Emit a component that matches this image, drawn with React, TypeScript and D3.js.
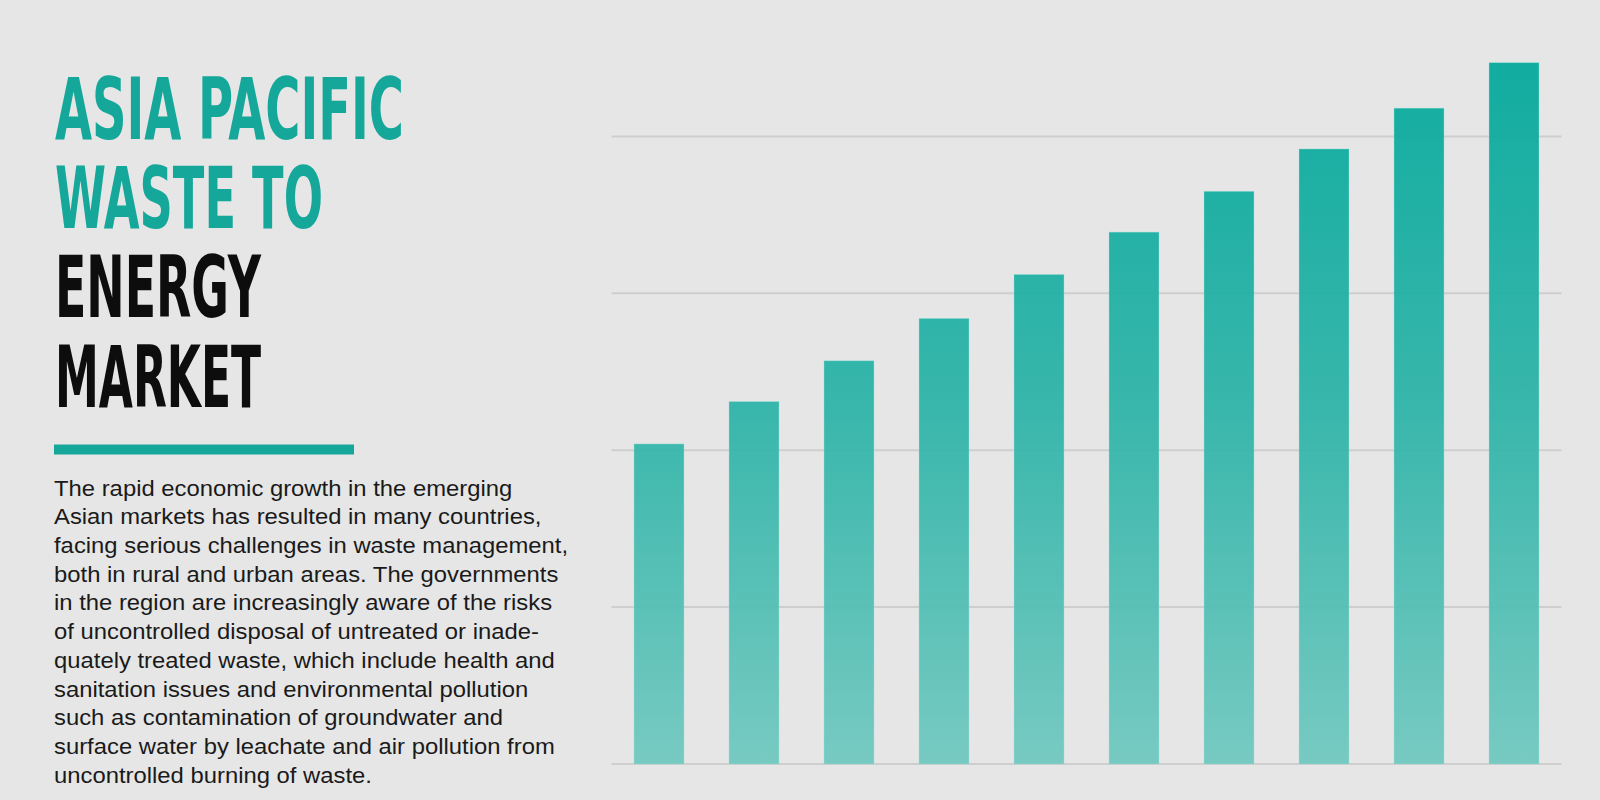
import React from "react";
import * as d3 from "d3";

const categories = ["1", "2", "3", "4", "5", "6", "7", "8", "9", "10"];
const values = [204, 231, 257, 284, 312, 339, 365, 392, 418, 447];
const gridTicks = [0, 100, 200, 300, 400];

const titleTeal = ["ASIA PACIFIC", "WASTE TO"];
const titleBlack = ["ENERGY", "MARKET"];
const titleWidths = [349, 268, 206, 206];

const paragraph = [
  "The rapid economic growth in the emerging",
  "Asian markets has resulted in many countries,",
  "facing serious challenges in waste management,",
  "both in rural and urban areas. The governments",
  "in the region are increasingly aware of the risks",
  "of uncontrolled disposal of untreated or inade-",
  "quately treated waste, which include health and",
  "sanitation issues and environmental pollution",
  "such as contamination of groundwater and",
  "surface water by leachate and air pollution from",
  "uncontrolled burning of waste.",
];

const W = 1600;
const H = 800;

export default function App() {
  const x = d3
    .scaleBand<string>()
    .domain(categories)
    .range([611.5, 1561.5])
    .paddingInner(0.4737)
    .paddingOuter(0.2368);
  const y = d3.scaleLinear().domain([0, 500]).range([764, 764 - 5 * 156.9]);

  const titleLines = [
    ...titleTeal.map((t) => ({ t, c: "#15a89a" })),
    ...titleBlack.map((t) => ({ t, c: "#0d0d0d" })),
  ];

  return (
    <svg
      width={W}
      height={H}
      viewBox={`0 0 ${W} ${H}`}
      style={{ position: "absolute", left: 0, top: 0, display: "block" }}
    >
      <defs>
        <linearGradient
          id="barGrad"
          gradientUnits="userSpaceOnUse"
          x1="0"
          y1={y(447)}
          x2="0"
          y2={y(0)}
        >
          <stop offset="0" stopColor="#02a89b" />
          <stop offset="0.5" stopColor="#2cb3a7" />
          <stop offset="1" stopColor="#6fc8bf" />
        </linearGradient>
      </defs>
      <rect x={0} y={0} width={W} height={H} fill="#e6e6e6" />

      {/* gridlines */}
      {gridTicks.map((t) => (
        <line
          key={t}
          x1={x.range()[0]}
          x2={x.range()[1]}
          y1={y(t)}
          y2={y(t)}
          stroke="#cecece"
          strokeWidth={2}
        />
      ))}

      {/* bars */}
      {categories.map((c, i) => (
        <rect
          key={c}
          x={x(c)}
          y={y(values[i])}
          width={x.bandwidth()}
          height={y(0) - y(values[i])}
          fill="url(#barGrad)"
          fillOpacity={0.93}
          stroke="#9fe3dc"
          strokeOpacity={0.5}
          strokeWidth={0.8}
        />
      ))}

      {/* title */}
      {titleLines.map((l, i) => (
        <text
          key={l.t}
          x={55}
          y={138.5 + i * 89.4}
          fill={l.c}
          fontFamily="'Liberation Sans Narrow', 'DejaVu Sans Condensed', Arial, sans-serif"
          fontWeight="bold"
          fontSize={86}
          textLength={titleWidths[i]}
          lengthAdjust="spacingAndGlyphs"
        >
          {l.t}
        </text>
      ))}
      <rect x={54} y={444.5} width={300} height={10} fill="#15a89a" />

      {/* paragraph */}
      <g transform="translate(54,0) scale(1.055,1)">
        {paragraph.map((line, i) => (
          <text
            key={i}
            x={0}
            y={495.7 + i * 28.7}
            fill="#1a1a1a"
            fontFamily="'Liberation Sans', Arial, sans-serif"
            fontSize={22.6}
          >
            {line}
          </text>
        ))}
      </g>
    </svg>
  );
}
